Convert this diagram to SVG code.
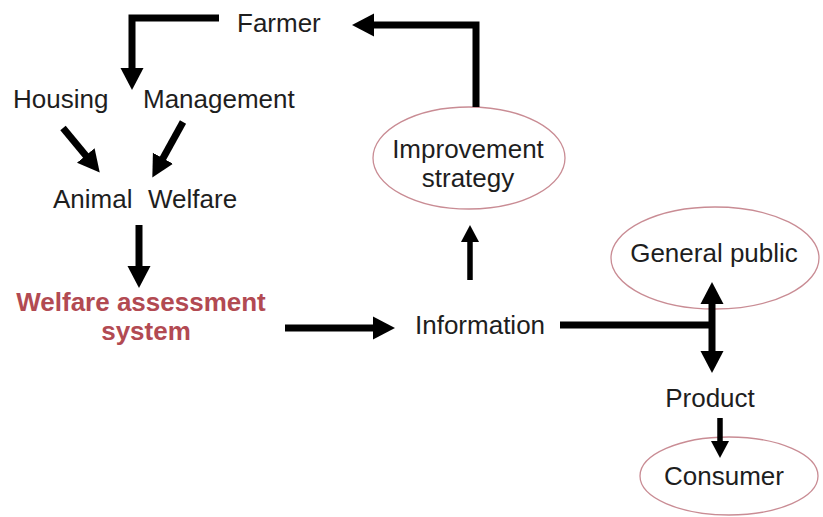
<svg xmlns="http://www.w3.org/2000/svg" width="823" height="517" viewBox="0 0 823 517">
  <style>
    .lbl { font-family: "Liberation Sans", Arial, sans-serif; font-size: 26px; fill: #1e1e1e; }
    .red { font-family: "Liberation Sans", Arial, sans-serif; font-size: 26px; font-weight: bold; fill: #b24a52; }
    .oval { fill: none; stroke: #c98c94; stroke-width: 1.3; }
    .conn { fill: none; stroke: #000000; stroke-width: 7; stroke-linejoin: miter; }
    .thin { stroke-width: 5.5; }
  </style>
  <defs>
    <marker id="head" markerUnits="userSpaceOnUse" markerWidth="22" markerHeight="24" viewBox="0 -12 22 24" refX="2" refY="0" orient="auto-start-reverse">
      <path d="M0,-11.5 L22,0 L0,11.5 z" fill="#000"/>
    </marker>
    <marker id="headSmall" markerUnits="userSpaceOnUse" markerWidth="17" markerHeight="18" viewBox="0 -9 17 18" refX="2" refY="0" orient="auto-start-reverse">
      <path d="M0,-9 L17,0 L0,9 z" fill="#000"/>
    </marker>
  </defs>
  <rect width="823" height="517" fill="#ffffff"/>

  <g id="farmer">
    <text class="lbl" x="237" y="32">Farmer</text>
  </g>
  <g id="housing">
    <text class="lbl" x="13" y="108">Housing</text>
  </g>
  <g id="management">
    <text class="lbl" x="143" y="108">Management</text>
  </g>
  <g id="animal-welfare">
    <text class="lbl" y="208"><tspan x="53">Animal</tspan><tspan x="148">Welfare</tspan></text>
  </g>
  <g id="welfare-assessment-system">
    <text class="red" x="141" y="311" text-anchor="middle">Welfare assessment</text>
    <text class="red" x="146" y="340" text-anchor="middle">system</text>
  </g>
  <g id="information">
    <text class="lbl" x="415" y="334">Information</text>
  </g>
  <g id="improvement-strategy">
    <ellipse class="oval" cx="469" cy="158" rx="96" ry="51"/>
    <text class="lbl" x="468" y="158" text-anchor="middle">Improvement</text>
    <text class="lbl" x="468" y="187" text-anchor="middle">strategy</text>
  </g>
  <g id="general-public">
    <ellipse class="oval" cx="715" cy="258" rx="104" ry="51"/>
    <text class="lbl" x="714" y="262" text-anchor="middle">General public</text>
  </g>
  <g id="product">
    <text class="lbl" x="710" y="407" text-anchor="middle">Product</text>
  </g>
  <g id="consumer">
    <ellipse class="oval" cx="729" cy="476" rx="89" ry="39"/>
    <text class="lbl" x="724" y="485" text-anchor="middle">Consumer</text>
  </g>

  <g id="connectors">
    <path class="conn" d="M219,18 H132 V70" marker-end="url(#head)"/>
    <path class="conn" d="M476,107 V25 H372" marker-end="url(#head)"/>
    <path class="conn" d="M63,128 L87,157" marker-end="url(#head)"/>
    <path class="conn" d="M183,122 L162,160" marker-end="url(#head)"/>
    <path class="conn" d="M139,225 V268" marker-end="url(#head)"/>
    <path class="conn" d="M285,328 H375" marker-end="url(#head)"/>
    <path class="conn thin" d="M470,280 V240" marker-end="url(#headSmall)"/>
    <path class="conn" d="M560,325 H715"/>
    <path class="conn" d="M712,302 V353" marker-start="url(#head)" marker-end="url(#head)"/>
    <path class="conn thin" d="M720,418 V443" marker-end="url(#headSmall)"/>
  </g>
</svg>
